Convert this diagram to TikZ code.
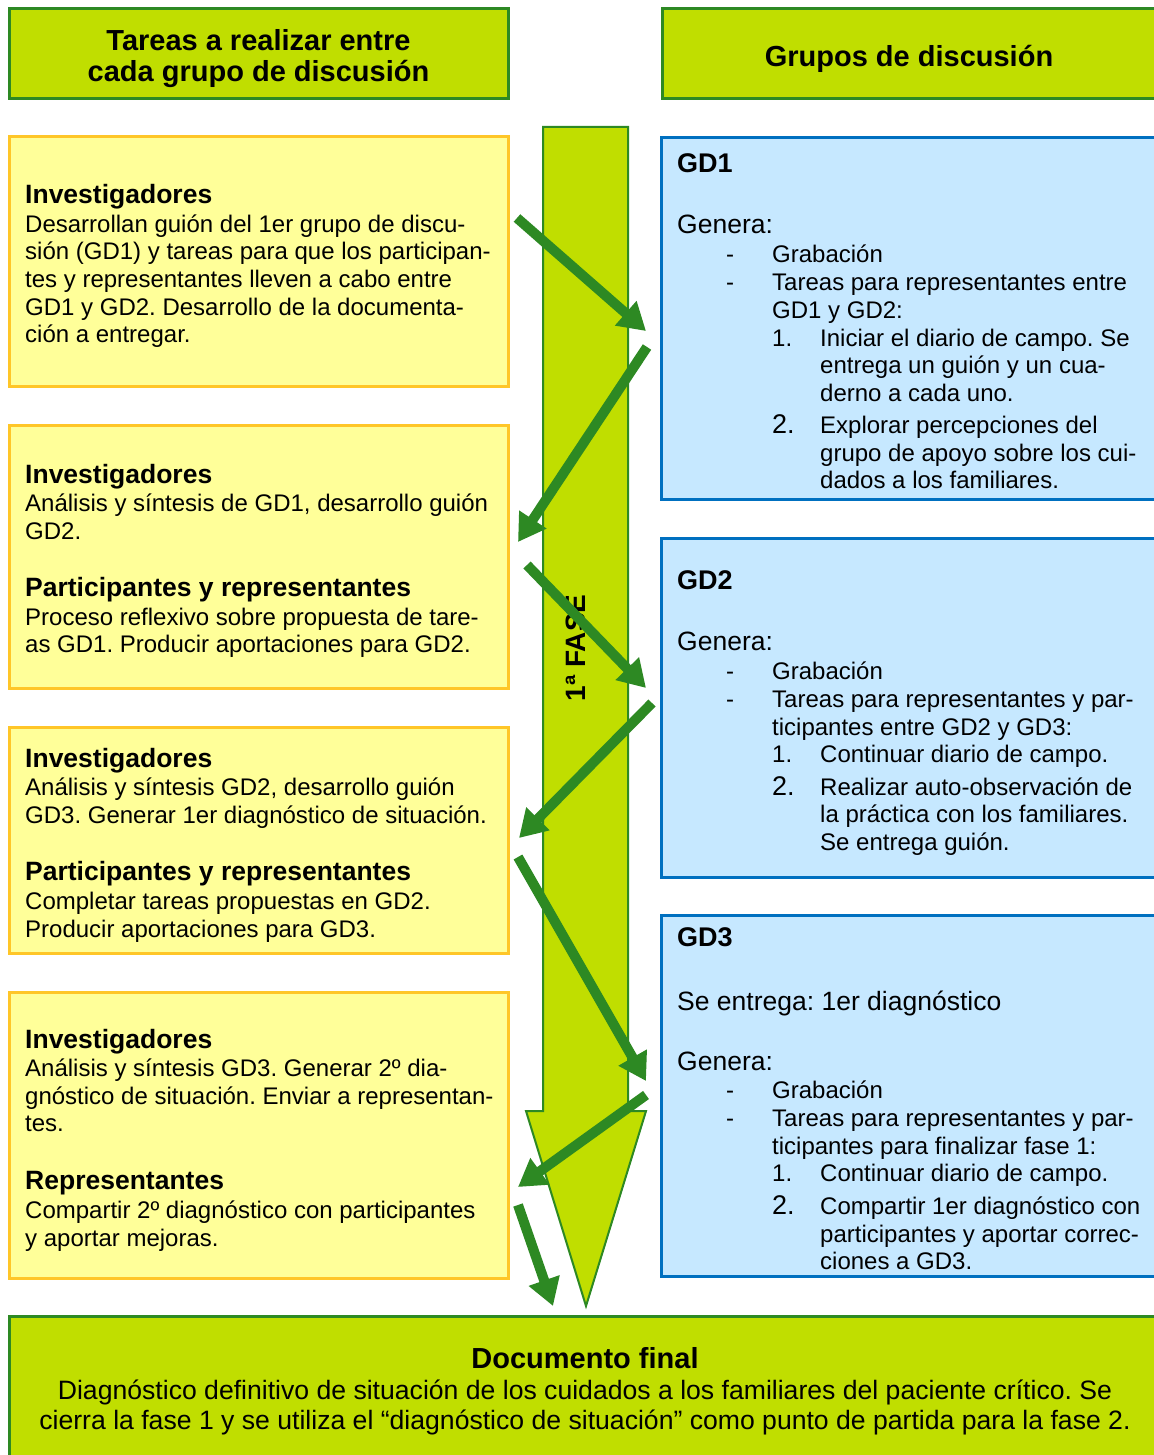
\documentclass[tikz,border=0pt]{standalone}
\usepackage{fontspec}
\setmainfont{Liberation Sans}
\usetikzlibrary{arrows.meta}
\definecolor{limeg}{RGB}{192,222,0}
\definecolor{dgreen}{RGB}{45,137,35}
\definecolor{ylwf}{RGB}{255,255,153}
\definecolor{ylwb}{RGB}{255,198,40}
\definecolor{bluef}{RGB}{198,232,255}
\definecolor{blueb}{RGB}{0,112,192}
\newcommand{\fs}{\rule{0pt}{25pt}}
\begin{document}
\frenchspacing
\begin{tikzpicture}[x=1pt,y=-1pt,
  box/.style={inner sep=0pt, outer sep=0pt, anchor=north west, line width=3pt},
  hdrbox/.style={box, draw=dgreen, fill=limeg},
  ybox/.style={box, draw=ylwb, fill=ylwf},
  bbox/.style={box, draw=blueb, fill=bluef},
  body/.style={inner sep=0pt, font=\fontsize{24}{27.6}\selectfont},
  line/.style={body, anchor=base west},
  para/.style={body, anchor=north west, align=left},
  head/.style={inner sep=0pt, anchor=base west, font=\fontsize{26.5}{30}\selectfont\bfseries},
  gdhead/.style={inner sep=0pt, anchor=base west, font=\fontsize{27}{31}\selectfont\bfseries},
  big/.style={inner sep=0pt, anchor=base west, font=\fontsize{26.5}{30}\selectfont},
  numtwo/.style={inner sep=0pt, anchor=base west, font=\fontsize{27}{31}\selectfont},
  htxt/.style={inner sep=0pt, font=\fontsize{29}{31.7}\selectfont\bfseries},
  ftxt/.style={inner sep=0pt, anchor=base, font=\fontsize{26.6}{30.6}\selectfont},
  flow/.style={draw=dgreen, line width=10pt, -{Triangle[length=27pt,width=31pt]}},
  phase/.style={draw=dgreen, line width=2pt, fill=limeg, line join=miter},
]
\useasboundingbox (0,0) rectangle (1153,1455);

% headers
\node[hdrbox, minimum width=499pt, minimum height=90pt] (HL) at (9.5,8.5) {};
\node[hdrbox, minimum width=503pt, minimum height=90pt] (HR) at (662,8.5) {};
\node[htxt, anchor=north, align=center] (HLt) at (258.5,25) {\rule{0pt}{25pt}Tareas a realizar entre\\cada grupo de discusión};
\node[htxt, anchor=base] (HRt) at (909,67) {Grupos de discusión};

% left boxes
\node[ybox, minimum width=499pt, minimum height=249pt] (L1) at (9.5,137) {};
\node[ybox, minimum width=499pt, minimum height=263pt] (L2) at (9.5,425) {};
\node[ybox, minimum width=499pt, minimum height=226pt] (L3) at (9.5,727) {};
\node[ybox, minimum width=499pt, minimum height=286pt] (L4) at (9.5,992) {};

% right boxes
\node[bbox, minimum width=505pt, minimum height=361pt] (R1) at (661.5,138) {};
\node[bbox, minimum width=505pt, minimum height=339pt] (R2) at (661.5,538) {};
\node[bbox, minimum width=505pt, minimum height=361pt] (R3) at (661.5,915) {};

% bottom box
\node[hdrbox, minimum width=1160pt, minimum height=150pt] (F) at (9.5,1316) {};

% central phase arrow
\draw[phase] (543,127) -- (628,127) -- (628,1111) -- (646,1111) -- (586,1306) -- (526,1111) -- (543,1111) -- cycle;
\node[inner sep=0pt, rotate=90, font=\fontsize{28}{32}\selectfont\bfseries] (fase) at (576,648) {1ª FASE};

% left texts
\node[head] (L1h) at (25,204) {Investigadores};
\node[para] (L1t) at (25,207) {\fs Desarrollan guión del 1er grupo de discu-\\sión (GD1) y tareas para que los participan-\\tes y representantes lleven a cabo entre\\GD1 y GD2. Desarrollo de la documenta-\\ción a entregar.};

\node[head] (L2h) at (25,483.3) {Investigadores};
\node[para] (L2t) at (25,486.7) {\fs Análisis y síntesis de GD1, desarrollo guión\\GD2.};
\node[head] (L2h2) at (25,596.7) {Participantes y representantes};
\node[para] (L2t2) at (25,600) {\fs Proceso reflexivo sobre propuesta de tare-\\as GD1. Producir aportaciones para GD2.};

\node[head] (L3h) at (25,767.5) {Investigadores};
\node[para] (L3t) at (25,770.6) {\fs Análisis y síntesis GD2, desarrollo guión\\GD3. Generar 1er diagnóstico de situación.};
\node[head] (L3h2) at (25,880.8) {Participantes y representantes};
\node[para] (L3t2) at (25,884.3) {\fs Completar tareas propuestas en GD2.\\Producir aportaciones para GD3.};

\node[head] (L4h) at (25,1048.8) {Investigadores};
\node[para] (L4t) at (25,1051.2) {\fs Análisis y síntesis GD3. Generar 2º dia-\\gnóstico de situación. Enviar a representan-\\tes.};
\node[head] (L4h2) at (25,1189.5) {Representantes};
\node[para] (L4t2) at (25,1193.7) {\fs Compartir 2º diagnóstico con participantes\\y aportar mejoras.};

% right texts: GD1
\node[gdhead] (R1h) at (677,173) {GD1};
\node[big] (R1g) at (677,234) {Genera:};
\node[line] (R1d1) at (726,262.7) {-};
\node[line] (R1i1) at (772,262.7) {Grabación};
\node[line] (R1d2) at (726,290.7) {-};
\node[para] (R1i2) at (772,265.7) {\fs Tareas para representantes entre\\GD1 y GD2:};
\node[line] (R1n1) at (772,346) {1.};
\node[para] (R1s1) at (820,321) {\fs Iniciar el diario de campo. Se\\entrega un guión y un cua-\\derno a cada uno.};
\node[numtwo] (R1n2) at (772,433.3) {2.};
\node[para] (R1s2) at (820,408.3) {\fs Explorar percepciones del\\grupo de apoyo sobre los cui-\\dados a los familiares.};

% GD2
\node[gdhead] (R2h) at (677,589.3) {GD2};
\node[big] (R2g) at (677,650.7) {Genera:};
\node[line] (R2d1) at (726,679.3) {-};
\node[line] (R2i1) at (772,679.3) {Grabación};
\node[line] (R2d2) at (726,707.3) {-};
\node[para] (R2i2) at (772,682.3) {\fs Tareas para representantes y par-\\ticipantes entre GD2 y GD3:};
\node[line] (R2n1) at (772,762.3) {1.};
\node[line] (R2s1) at (820,762.3) {Continuar diario de campo.};
\node[numtwo] (R2n2) at (772,795) {2.};
\node[para] (R2s2) at (820,770) {\fs Realizar auto-observación de\\la práctica con los familiares.\\Se entrega guión.};

% GD3
\node[gdhead] (R3h) at (677,946.7) {GD3};
\node[big] (R3e) at (677,1010) {Se entrega: 1er diagnóstico};
\node[big] (R3g) at (677,1070) {Genera:};
\node[line] (R3d1) at (726,1098.3) {-};
\node[line] (R3i1) at (772,1098.3) {Grabación};
\node[line] (R3d2) at (726,1126.7) {-};
\node[para] (R3i2) at (772,1101.7) {\fs Tareas para representantes y par-\\ticipantes para finalizar fase 1:};
\node[line] (R3n1) at (772,1181.7) {1.};
\node[line] (R3s1) at (820,1181.7) {Continuar diario de campo.};
\node[numtwo] (R3n2) at (772,1214.3) {2.};
\node[para] (R3s2) at (820,1189.3) {\fs Compartir 1er diagnóstico con\\participantes y aportar correc-\\ciones a GD3.};

% bottom texts
\node[inner sep=0pt, anchor=base, font=\fontsize{29}{32}\selectfont\bfseries] (Ft) at (585,1368) {Documento final};
\node[ftxt] (Fb1) at (585,1399) {Diagnóstico definitivo de situación de los cuidados a los familiares del paciente crítico. Se};
\node[ftxt] (Fb2) at (585,1429) {cierra la fase 1 y se utiliza el “diagnóstico de situación” como punto de partida para la fase 2.};

% green flow arrows
\coordinate (a1s) at (517,218);  \coordinate (a1e) at (646,331);
\coordinate (a2s) at (647,347);  \coordinate (a2e) at (518,542);
\coordinate (a3s) at (527,565);  \coordinate (a3e) at (646,688);
\coordinate (a4s) at (652,703);  \coordinate (a4e) at (519,838);
\coordinate (a5s) at (518,857);  \coordinate (a5e) at (646,1081);
\coordinate (a6s) at (646,1095); \coordinate (a6e) at (518,1187);
\coordinate (a7s) at (518,1205); \coordinate (a7e) at (553,1306);
\draw[flow] (a1s) -- (a1e);
\draw[flow] (a2s) -- (a2e);
\draw[flow] (a3s) -- (a3e);
\draw[flow] (a4s) -- (a4e);
\draw[flow] (a5s) -- (a5e);
\draw[flow] (a6s) -- (a6e);
\draw[flow] (a7s) -- (a7e);
\end{tikzpicture}
\end{document}
